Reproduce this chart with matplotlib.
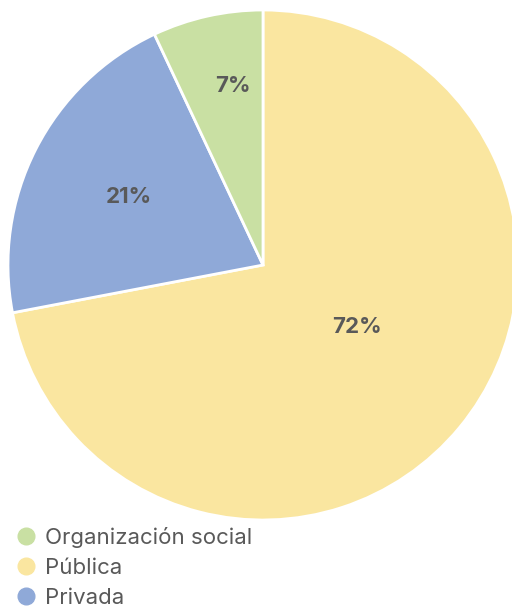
import matplotlib.pyplot as plt
from matplotlib.lines import Line2D
import numpy as np

# pie order: clockwise from 12 o'clock
categories = ['Pública', 'Privada', 'Organización social']
values = [72, 21, 7]
colors = ['#FAE6A0', '#8FA9D8', '#C9E0A3']

legend_order = ['Organización social', 'Pública', 'Privada']

plt.rcParams['font.family'] = ['Inter', 'DejaVu Sans']

fig = plt.figure(figsize=(5.12, 6.09), dpi=100)
ax = fig.add_axes([(263 - 255) / 512, (344 - 255) / 609, 510 / 512, 510 / 609])

wedges, _ = ax.pie(values, colors=colors, startangle=90, counterclock=False,
                   radius=1, wedgeprops=dict(edgecolor='white', linewidth=2))
ax.set_xlim(-1, 1)
ax.set_ylim(-1, 1)
ax.set_aspect('auto')

# label placement: (distance from centre, angle nudge in degrees)
label_dist = [0.44, 0.59, 0.71]
label_nudge = [6, 0, -3]
for w, v, d, n in zip(wedges, values, label_dist, label_nudge):
    mid = np.deg2rad((w.theta1 + w.theta2) / 2 + n)
    ax.text(d * np.cos(mid), d * np.sin(mid), f'{v}%', ha='center', va='center',
            fontsize=16, fontweight='bold', color='#595959')

handles = []
for name in legend_order:
    c = colors[categories.index(name)]
    handles.append(Line2D([], [], marker='o', linestyle='none', markersize=12,
                          markerfacecolor=c, markeredgecolor=c))
fig.legend(handles, legend_order, loc='upper left', bbox_to_anchor=(0.012, 1 - 518 / 609),
           frameon=False, fontsize=16, labelcolor='#595959', handletextpad=0.35,
           labelspacing=0.45, borderaxespad=0, handlelength=1.0)

fig.savefig('out.png', dpi=100)
